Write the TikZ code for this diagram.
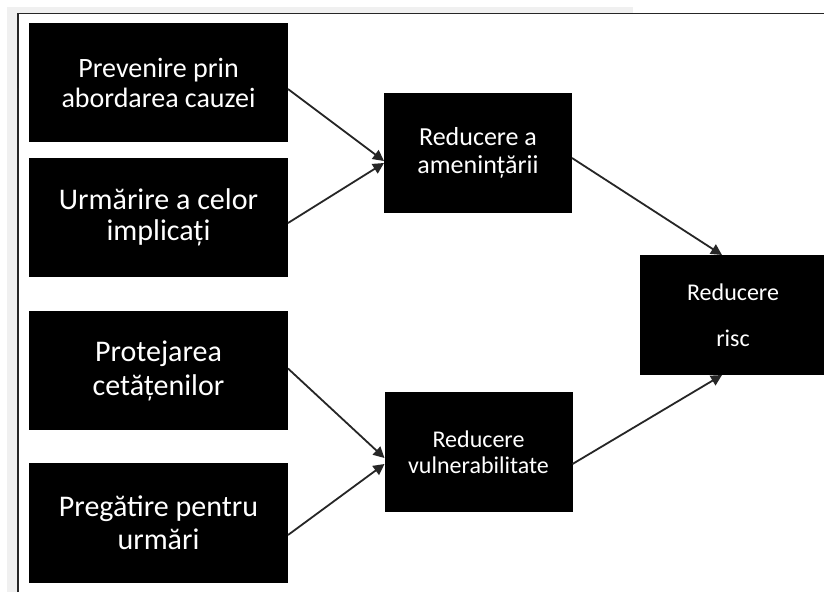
\documentclass[tikz,border=0pt]{standalone}
\usepackage{fontspec}
\setmainfont{Carlito}
\usetikzlibrary{arrows.meta,positioning}
\definecolor{framegray}{rgb}{0.94,0.94,0.94}
\definecolor{linegray}{rgb}{0.15,0.15,0.15}

\begin{document}
\begin{tikzpicture}[x=1pt,y=-1pt,
  blackbox/.style={fill=black,text=white,minimum width=259pt,minimum height=119pt,inner sep=0pt,outer sep=0pt,align=center},
  midbox/.style={blackbox,minimum width=188pt,minimum height=120pt},
  arr/.style={linegray,line width=1.8pt,-{Triangle[length=11pt,width=11pt]}}]
\useasboundingbox (0,0) rectangle (824,592);
\fill[white] (0,0) rectangle (824,592);
% window frame
\fill[framegray] (7,7) rectangle (633,13);
\fill[framegray] (7,13) rectangle (17,592);
\draw[linegray,line width=1.5pt] (18,592)--(18,13.5)--(824,13.5);
% left column
\draw (158.5,82.5) node (prev) [blackbox,font=\fontsize{28}{30}\selectfont] {Prevenire prin\\abordarea cauzei};
\draw (158.5,217.5) node (urm) [blackbox,font=\fontsize{30}{31}\selectfont] {Urmărire a celor\\implicați};
\draw (158.5,370.5) node (prot) [blackbox,font=\fontsize{30}{34}\selectfont] {Protejarea\\cetățenilor};
\draw (158.5,523) node (preg) [blackbox,minimum height=120pt,font=\fontsize{30}{33}\selectfont] {Pregătire pentru\\urmări};
% middle column
\draw (478,153) node (amen) [midbox,font=\fontsize{26}{28}\selectfont] {Reducere a\\amenințării};
\draw (478.5,452) node (vuln) [midbox,minimum height=120pt,font=\fontsize{24}{26}\selectfont] {Reducere\\vulnerabilitate};
% right
\draw (733,315) node (risc) [midbox,minimum width=186pt,font=\fontsize{24}{46}\selectfont] {Reducere\\risc};
% arrows
\draw[arr] ([yshift=-6.5pt]prev.east)--([yshift=-8pt]amen.west);
\draw[arr] ([yshift=-5.5pt]urm.east)--([yshift=-10pt]amen.west);
\draw[arr] ([yshift=-5pt]amen.east)--([xshift=-11pt]risc.north);
\draw[arr] ([yshift=2pt]prot.east)--([yshift=-6pt]vuln.west);
\draw[arr] ([yshift=-12pt]preg.east)--([yshift=-12pt]vuln.west);
\draw[arr] ([yshift=-12pt]vuln.east)--([xshift=-11pt]risc.south);
\end{tikzpicture}
\end{document}
